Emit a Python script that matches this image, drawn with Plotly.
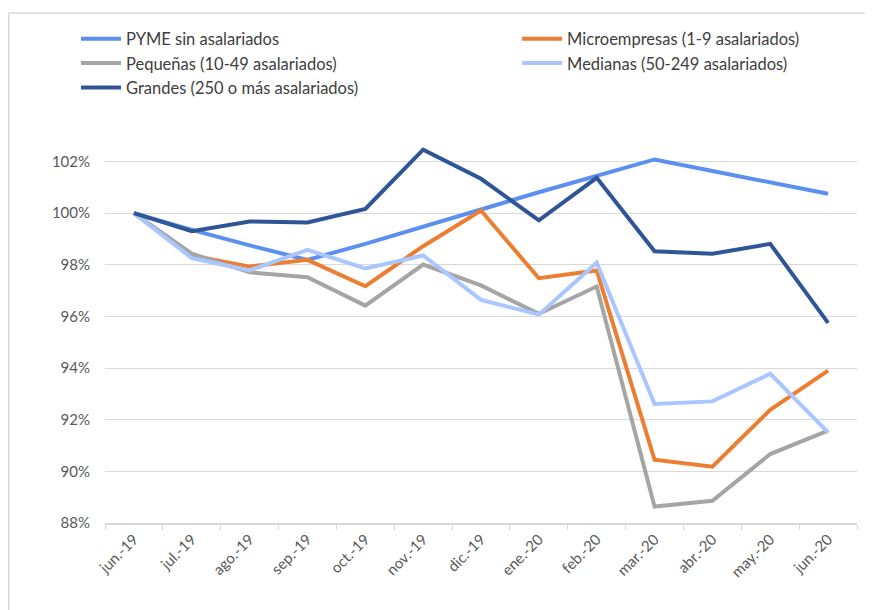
import plotly.graph_objects as go

# Datos (índice, jun.-19 = 100%)
meses = ["jun.-19", "jul.-19", "ago.-19", "sep.-19", "oct.-19", "nov.-19", "dic.-19",
         "ene.-20", "feb.-20", "mar.-20", "abr.-20", "may.-20", "jun.-20"]

pyme_sin = [100.0, 99.35, 98.75, 98.19, 98.81, 99.46, 100.14, 100.81, 101.46, 102.08, 101.63, 101.2, 100.75]
micro = [100.0, 98.36, 97.93, 98.19, 97.17, 98.72, 100.1, 97.48, 97.78, 90.45, 90.18, 92.38, 93.9]
pequenas = [100.0, 98.43, 97.71, 97.52, 96.42, 98.01, 97.2, 96.1, 97.16, 88.64, 88.86, 90.67, 91.58]
medianas = [100.0, 98.26, 97.78, 98.58, 97.86, 98.36, 96.64, 96.07, 98.08, 92.61, 92.71, 93.78, 91.51]
grandes = [100.0, 99.3, 99.68, 99.64, 100.16, 102.46, 101.33, 99.72, 101.37, 98.52, 98.43, 98.81, 95.75]

# nombre, valores, color, leyenda (columna)
series = [
    ("PYME sin asalariados", pyme_sin, "#5B8FF0", "legend"),
    ("Microempresas (1-9 asalariados)", micro, "#ED7D31", "legend2"),
    ("Pequeñas (10-49 asalariados)", pequenas, "#A5A5A5", "legend"),
    ("Medianas (50-249 asalariados)", medianas, "#A9C6FF", "legend2"),
    ("Grandes (250 o más asalariados)", grandes, "#2F5597", "legend"),
]

fig = go.Figure()
for name, vals, color, leg in series:
    fig.add_trace(go.Scatter(
        x=meses, y=vals, mode="lines", name=name, legend=leg,
        line=dict(color=color, width=4),
    ))

legend_style = dict(
    orientation="v", yanchor="top", xanchor="left", yref="container",
    font=dict(size=16.5, color="#404040"), itemwidth=40, tracegroupgap=0,
    bgcolor="rgba(0,0,0,0)",
)

fig.update_layout(
    width=873, height=610,
    margin=dict(l=97, r=24, t=122, b=95, autoexpand=False),
    paper_bgcolor="white", plot_bgcolor="white",
    font=dict(family="Lato", color="#595959", size=15),
    showlegend=True,
    legend=dict(x=-0.0386, y=0.978, **legend_style),
    legend2=dict(x=0.548, y=0.978, **legend_style),
    xaxis=dict(
        type="category", range=[-0.5, 12.5], tickangle=-45, automargin=False,
        showline=True, linecolor="#D9D9D9", linewidth=1.5,
        ticks="outside", tickson="boundaries", ticklen=5, tickcolor="#D9D9D9",
        showgrid=False, tickfont=dict(size=15),
    ),
    yaxis=dict(
        range=[88, 103.22], tickvals=[88, 90, 92, 94, 96, 98, 100, 102],
        ticktext=["88%", "90%", "92%", "94%", "96%", "98%", "100%", "102%"],
        showgrid=True, gridcolor="#D9D9D9", gridwidth=1.2, automargin=False,
        zeroline=False, showline=False, ticks="", ticklabelstandoff=14,
        tickfont=dict(size=15),
    ),
)

# Marco del gráfico
fig.add_shape(type="line", xref="paper", yref="paper",
              x0=-0.128, x1=1.1, y0=1.2977, y1=1.2977,
              line=dict(color="#D9D9D9", width=1.5))
fig.add_shape(type="line", xref="paper", yref="paper",
              x0=-0.128, x1=-0.128, y0=-0.3, y1=1.2977,
              line=dict(color="#D9D9D9", width=1.5))

fig.write_html("out.html")
